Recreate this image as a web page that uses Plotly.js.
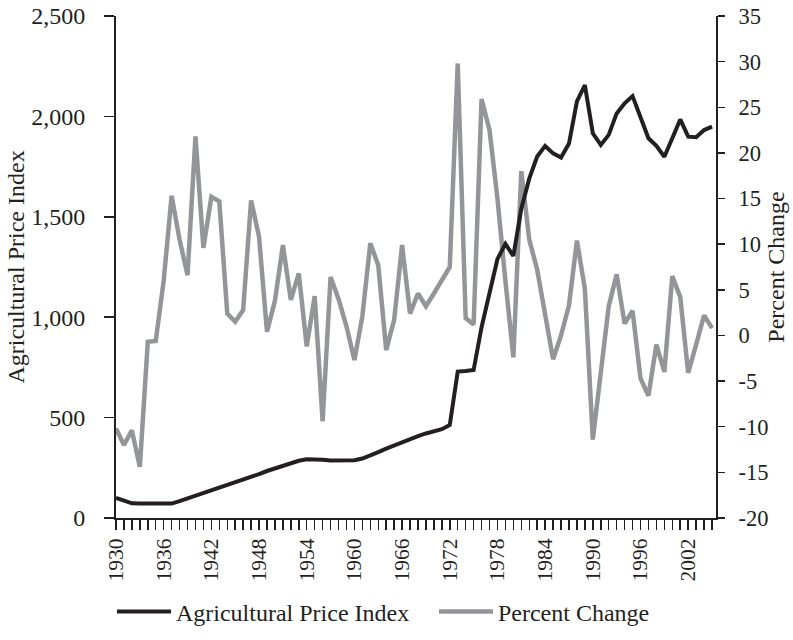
<!DOCTYPE html>
<html>
<head>
<meta charset="utf-8">
<script src="https://cdn.plot.ly/plotly-3.0.1.min.js"></script>
<style>html,body{margin:0;padding:0;background:#fff;}#chart{width:793px;height:640px;}</style>
</head>
<body>
<div id="chart"></div>
<script>
// ---- data ----
var years = [1930,1931,1932,1933,1934,1935,1936,1937,1938,1939,
             1940,1941,1942,1943,1944,1945,1946,1947,1948,1949,
             1950,1951,1952,1953,1954,1955,1956,1957,1958,1959,
             1960,1961,1962,1963,1964,1965,1966,1967,1968,1969,
             1970,1971,1972,1973,1974,1975,1976,1977,1978,1979,
             1980,1981,1982,1983,1984,1985,1986,1987,1988,1989,
             1990,1991,1992,1993,1994,1995,1996,1997,1998,1999,
             2000,2001,2002,2003,2004,2005];

var priceIndex = [100,85,73,72,72,71,71,72,84,97,
                  110,124,138,151,165,178,192,206,219,234,
                  248,262,275,285,292,292,290,286,285,285,
                  288,296,310,328,345,362,378,393,408,421,
                  432,442,463,729,732,737,950,1130,1290,1365,
                  1305,1540,1690,1800,1853,1816,1795,1865,2075,2156,
                  1916,1858,1908,2015,2065,2101,1990,1891,1853,1799,
                  1891,1985,1899,1896,1932,1949];

var percentChange = [-10.2,-12.0,-10.4,-14.4,-0.7,-0.6,6.0,15.3,10.5,6.6,
                     21.8,9.6,15.2,14.7,2.4,1.5,2.8,14.8,10.8,0.4,
                     3.8,9.9,3.9,6.8,-1.2,4.3,-9.4,6.4,4.0,1.0,
                     -2.7,2.1,10.1,7.7,-1.6,1.7,9.9,2.4,4.6,3.2,
                     4.6,6.0,7.5,29.8,1.9,1.2,25.9,22.5,15.0,6.0,
                     -2.4,18.0,10.5,7.2,2.3,-2.6,0.0,3.3,10.4,5.1,
                     -11.4,-4.4,3.2,6.7,1.3,2.7,-4.7,-6.6,-1.0,-4.0,
                     6.5,4.2,-4.1,-1.0,2.2,0.8];

var xLabelYears = [1930,1936,1942,1948,1954,1960,1966,1972,1978,1984,1990,1996,2002];
var indexTicks = [0,500,1000,1500,2000,2500];
var indexGrid = [500,1000,1500,2000];
var pctTicks = [-20,-15,-10,-5,0,5,10,15,20,25,30,35];
var pctTickText = ['-20','-15','-10','-5','0','5','10','15','20','25','30','35'];

var seriesNames = ['Agricultural Price Index','Percent Change'];
var axisTitles = {left:'Agricultural Price Index', right:'Percent Change'};

// ---- build ----
var xText = years.map(function(y){ return xLabelYears.indexOf(y) >= 0 ? String(y) : ''; });
var INK = '#231f20';
var GRAY = '#939598';
var FONT = 'Liberation Serif, Times New Roman, serif';
var xRange = [1930, 2005.5];

var traces = [
  {type:'scatter', mode:'lines', x:years, y:priceIndex, name:seriesNames[0],
   xaxis:'x', yaxis:'y2', line:{color:INK, width:4}},
  {type:'scatter', mode:'lines', x:years, y:percentChange, name:seriesNames[1],
   xaxis:'x', yaxis:'y', line:{color:GRAY, width:4.5}}
];

var layout = {
  width:793, height:640,
  margin:{l:116, r:77, t:16, b:122, autoexpand:false},
  paper_bgcolor:'#fff', plot_bgcolor:'#fff',
  font:{family:FONT, color:INK, size:24},
  showlegend:true,
  legend:{orientation:'h', x:-0.0067, xanchor:'left', y:-0.187, yanchor:'middle',
          font:{family:FONT, size:24, color:INK}, itemwidth:54, entrywidth:253, entrywidthmode:'pixels',
          bgcolor:'rgba(0,0,0,0)'},
  xaxis:{range:xRange, tickmode:'array', tickvals:years, ticktext:xText, tickangle:-90,
         ticks:'outside', ticklen:10, tickwidth:1.5, tickcolor:INK,
         showline:true, linecolor:INK, linewidth:2, showgrid:false, zeroline:false,
         tickfont:{family:FONT, size:21.5, color:INK}, anchor:'y', ticklabelstandoff:0},
  xaxis2:{range:xRange, overlaying:'x', anchor:'y', side:'bottom', tickmode:'array', tickvals:years,
          ticks:'inside', ticklen:8, tickwidth:1.5, tickcolor:INK, showticklabels:false,
          showline:false, showgrid:false, zeroline:false},
  yaxis:{range:[-20,35], side:'right', anchor:'x', tickmode:'array', tickvals:pctTicks, ticktext:pctTickText,
         ticks:'outside', ticklen:7, tickwidth:1.5, tickcolor:INK,
         showline:true, linecolor:INK, linewidth:2, showgrid:false, zeroline:false,
         tickfont:{family:FONT, size:22.5, color:INK}, ticklabelstandoff:9,
         title:{text:axisTitles.right, font:{family:FONT, size:24, color:INK}, standoff:0}},
  yaxis2:{range:[0,2500], side:'left', overlaying:'y', anchor:'x', tickmode:'array', tickvals:indexTicks,
          tickformat:',', ticks:'outside', ticklen:10, tickwidth:1.5, tickcolor:INK,
          showline:true, linecolor:INK, linewidth:2, showgrid:false, zeroline:false,
          tickfont:{family:FONT, size:24, color:INK}, ticklabelstandoff:14,
          title:{text:axisTitles.left, font:{family:FONT, size:24, color:INK}, standoff:0}},
  yaxis3:{range:[0,2500], side:'left', overlaying:'y', anchor:'x', tickmode:'array', tickvals:indexGrid,
          ticks:'inside', ticklen:10, tickwidth:1.5, tickcolor:INK, showticklabels:false,
          showgrid:true, gridcolor:INK, gridwidth:1.3, showline:false, zeroline:false},
  yaxis4:{range:[-20,35], side:'right', overlaying:'y', anchor:'x', tickmode:'array', tickvals:pctTicks,
          ticks:'inside', ticklen:7, tickwidth:1.5, tickcolor:INK, showticklabels:false,
          showgrid:false, showline:false, zeroline:false}
};

Plotly.newPlot('chart', traces, layout, {displayModeBar:false, staticPlot:true});
</script>
</body>
</html>
